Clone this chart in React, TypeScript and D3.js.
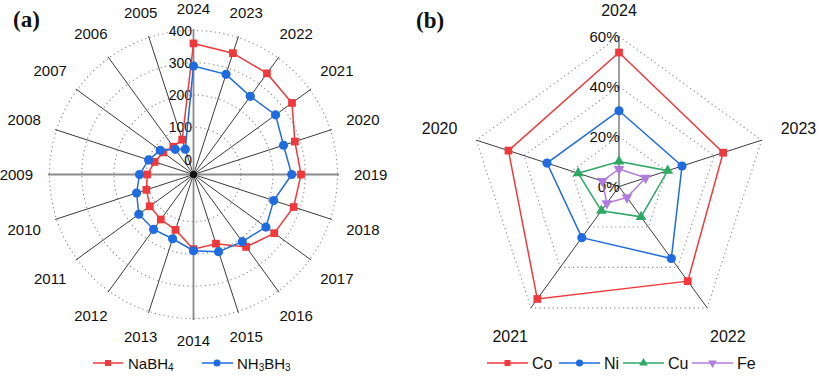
import React from "react";
import * as d3 from "d3";

// ---------- Panel (a) data ----------
const yearsA = [2005, 2006, 2007, 2008, 2009, 2010, 2011, 2012, 2013, 2014, 2015, 2016, 2017, 2018, 2019, 2020, 2021, 2022, 2023, 2024];
const nabh4 = [67, 60, 70, 80, 97, 107, 121, 126, 134, 185, 179, 231, 263, 280, 287, 284, 331, 341, 349, 360];
const nh3bh3 = [36, 50, 81, 100, 121, 139, 163, 164, 163, 190, 205, 211, 231, 215, 258, 247, 268, 253, 280, 290];
const ticksA = [0, 100, 200, 300, 400];

// ---------- Panel (b) data ----------
const yearsB = [2024, 2023, 2022, 2021, 2020];
const co = [53.6, 43.8, 46.8, 55.6, 46.5];
const ni = [30.3, 26.5, 35.6, 25.3, 30.3];
const cu = [10, 20.5, 15, 12, 17.2];
const fe = [7, 11.2, 5.4, 8.3, 7];
const ticksB = [0, 20, 40, 60];

const RED = "#EF3A3D";
const BLUE = "#1F6BE0";
const GREEN = "#2EA865";
const PURPLE = "#B07BDF";
const SPOKE = "#3c3c3c";
const GRID = "#8a8a8a";
const FONT = "Liberation Sans, Arial, sans-serif";

const deg = Math.PI / 180;

function polar(cx: number, cy: number, r: number, a: number): [number, number] {
  return [cx + r * Math.sin(a), cy - r * Math.cos(a)];
}

function labelPos(cx: number, cy: number, edge: number, a: number, hw: number, hh: number): [number, number] {
  const r = edge + Math.abs(Math.sin(a)) * hw + Math.abs(Math.cos(a)) * hh;
  return polar(cx, cy, r, a);
}

const sym = (type: d3.SymbolType, size: number) => d3.symbol().type(type).size(size)() as string;

function Marker({ kind, x, y, color, size }: { kind: string; x: number; y: number; color: string; size: number }) {
  if (kind === "square") return <path d={sym(d3.symbolSquare, size)} transform={`translate(${x},${y})`} fill={color} />;
  if (kind === "circle") return <path d={sym(d3.symbolCircle, size)} transform={`translate(${x},${y})`} fill={color} />;
  if (kind === "tri") return <path d={sym(d3.symbolTriangle, size)} transform={`translate(${x},${y})`} fill={color} />;
  return <path d={sym(d3.symbolTriangle, size)} transform={`translate(${x},${y}) rotate(180)`} fill={color} />;
}

function PanelA() {
  const cx = 193.5, cy = 174.5;
  const R = 144;
  const r = d3.scaleLinear().domain([0, 400]).range([15, R]);
  const ang = (y: number) => (2024 - y) * 18 * deg;
  const fs = 15;
  const line = d3.line<[number, number]>().curve(d3.curveLinearClosed);
  const series = [
    { vals: nabh4, color: RED, kind: "square", size: 60 },
    { vals: nh3bh3, color: BLUE, kind: "circle", size: 66 },
  ];
  return (
    <g>
      {ticksA.slice(1).map((t) => (
        <circle key={t} cx={cx} cy={cy} r={r(t)} fill="none" stroke={GRID} strokeWidth={1.1} strokeDasharray="1.2 3.2" />
      ))}
      {yearsA.map((y) => {
        const a = ang(y);
        const [x2, y2] = polar(cx, cy, R + 1.5, a);
        const major = y === 2024 || y === 2019 || y === 2014 || y === 2009;
        return <line key={y} x1={cx} y1={cy} x2={x2} y2={y2} stroke={major ? "#8a8a8a" : SPOKE} strokeWidth={major ? 1.8 : 1} />;
      })}
      <circle cx={cx} cy={cy} r={3.5} fill="#111" />
      {yearsA.map((y) => {
        const a = ang(y);
        const [lx, ly] = labelPos(cx, cy, 160.5, a, 4 * 0.556 * fs / 2, fs * 0.36);
        return (
          <text key={y} x={lx} y={ly} textAnchor="middle" dominantBaseline="central" fontSize={fs} fontFamily={FONT} fill="#111">
            {y}
          </text>
        );
      })}
      {ticksA.map((t) => (
        <text key={t} x={cx - 1.5} y={cy - r(t)} textAnchor="end" dominantBaseline="central" fontSize={14} fontFamily={FONT} fill="#111">
          {t}
        </text>
      ))}
      {series.map((s, si) => {
        const pts = yearsA.map((y, i) => polar(cx, cy, r(s.vals[i]), ang(y)));
        return (
          <g key={si}>
            <path d={line(pts) as string} fill="none" stroke={s.color} strokeWidth={1.5} />
            {pts.map((p, i) => (
              <Marker key={i} kind={s.kind} x={p[0]} y={p[1]} color={s.color} size={s.size} />
            ))}
          </g>
        );
      })}
      <text x={13} y={27} fontFamily="Liberation Serif, Times New Roman, serif" fontWeight="bold" fontSize={23} fill="#111">
        (a)
      </text>
      {/* legend */}
      <g fontFamily={FONT} fontSize={15} fill="#111">
        <line x1={93} x2={123} y1={363} y2={363} stroke={RED} strokeWidth={1.5} />
        <Marker kind="square" x={108} y={363} color={RED} size={36} />
        <text x={128} y={363} dominantBaseline="central">
          NaBH<tspan fontSize={10} dy={4}>4</tspan>
        </text>
        <line x1={202} x2={233} y1={363} y2={363} stroke={BLUE} strokeWidth={1.5} />
        <Marker kind="circle" x={217} y={363} color={BLUE} size={40} />
        <text x={237} y={363} dominantBaseline="central">
          NH<tspan fontSize={10} dy={4}>3</tspan>
          <tspan dy={-4}>BH</tspan>
          <tspan fontSize={10} dy={4}>3</tspan>
        </text>
      </g>
    </g>
  );
}

function PanelB() {
  const cx = 619, cy = 186.5;
  const R = 150;
  const r = d3.scaleLinear().domain([0, 60]).range([0, R]);
  const ang = (i: number) => i * 72 * deg;
  const fs = 16;
  const line = d3.line<[number, number]>().curve(d3.curveLinearClosed);
  const series = [
    { vals: co, color: RED, kind: "square", size: 60 },
    { vals: ni, color: BLUE, kind: "circle", size: 66 },
    { vals: cu, color: GREEN, kind: "tri", size: 50 },
    { vals: fe, color: PURPLE, kind: "down", size: 50 },
  ];
  const legend = [
    { name: "Co", color: RED, kind: "square", x: 487, size: 36 },
    { name: "Ni", color: BLUE, kind: "circle", x: 559, size: 40 },
    { name: "Cu", color: GREEN, kind: "tri", x: 623, size: 32 },
    { name: "Fe", color: PURPLE, kind: "down", x: 692, size: 32 },
  ];
  return (
    <g>
      {ticksB.slice(1).map((t) => {
        const pts = yearsB.map((_, i) => polar(cx, cy, r(t), ang(i)));
        return <path key={t} d={line(pts) as string} fill="none" stroke={GRID} strokeWidth={1.1} strokeDasharray="1.2 3.2" />;
      })}
      {yearsB.map((y, i) => {
        const [x2, y2] = polar(cx, cy, R, ang(i));
        return <line key={y} x1={cx} y1={cy} x2={x2} y2={y2} stroke={SPOKE} strokeWidth={1} />;
      })}
      {yearsB.map((y, i) => {
        const [lx, ly] = labelPos(cx, cy, 170, ang(i), 4 * 0.556 * fs / 2, fs * 0.36);
        return (
          <text key={y} x={lx} y={ly} textAnchor="middle" dominantBaseline="central" fontSize={fs} fontFamily={FONT} fill="#111">
            {y}
          </text>
        );
      })}
      {ticksB.map((t) => (
        <text key={t} x={cx + 0.5} y={cy - r(t)} textAnchor="end" dominantBaseline="central" fontSize={15} fontFamily={FONT} fill="#111">
          {t}%
        </text>
      ))}
      {series.map((s, si) => {
        const pts = yearsB.map((_, i) => polar(cx, cy, r(s.vals[i]), ang(i)));
        return (
          <g key={si}>
            <path d={line(pts) as string} fill="none" stroke={s.color} strokeWidth={1.5} />
            {pts.map((p, i) => (
              <Marker key={i} kind={s.kind} x={p[0]} y={p[1]} color={s.color} size={s.size} />
            ))}
          </g>
        );
      })}
      <text x={416} y={28} fontFamily="Liberation Serif, Times New Roman, serif" fontWeight="bold" fontSize={23} fill="#111">
        (b)
      </text>
      <g fontFamily={FONT} fontSize={16} fill="#111">
        {legend.map((l) => (
          <g key={l.name}>
            <line x1={l.x} x2={l.x + 41} y1={363} y2={363} stroke={l.color} strokeWidth={1.5} />
            <Marker kind={l.kind} x={l.x + 20.5} y={363} color={l.color} size={l.size} />
            <text x={l.x + 45} y={363} dominantBaseline="central">
              {l.name}
            </text>
          </g>
        ))}
      </g>
    </g>
  );
}

export default function App() {
  return (
    <svg width={817} height={377} style={{ position: "absolute", left: 0, top: 0, display: "block", background: "#fff" }}>
      <rect width={817} height={377} fill="#fff" />
      <PanelA />
      <PanelB />
    </svg>
  );
}
